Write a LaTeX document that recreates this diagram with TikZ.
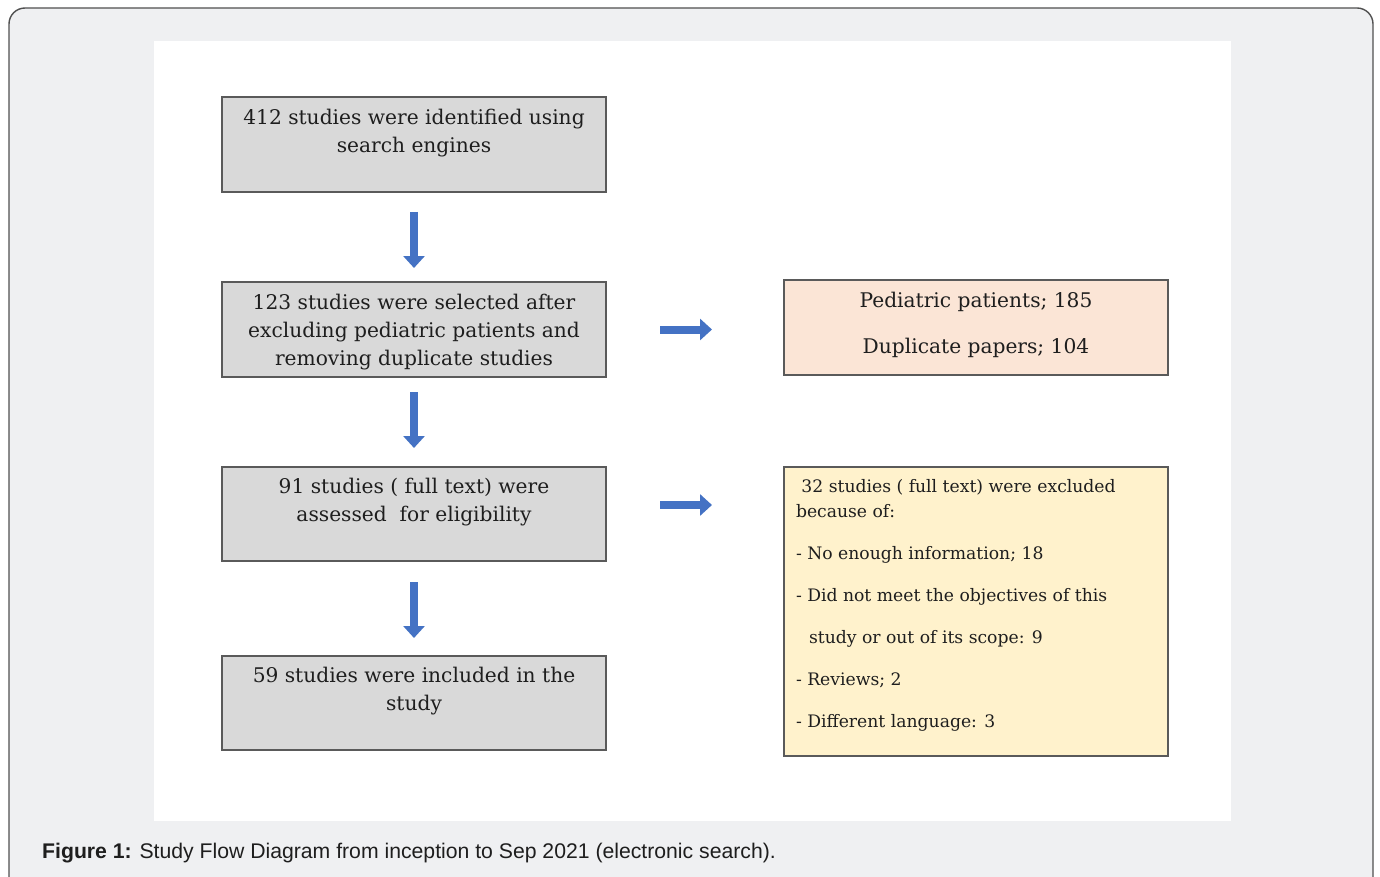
\documentclass[tikz,border=0pt]{standalone}
\usepackage{fontspec}
\setmainfont{DejaVu Serif}
\newfontfamily\capfont{Liberation Sans}
\usetikzlibrary{arrows.meta,calc}
\definecolor{frameBg}{HTML}{EFF0F2}
\definecolor{frameLine}{HTML}{505050}
\definecolor{boxFill}{HTML}{D9D9D9}
\definecolor{boxLine}{HTML}{5A5A5A}
\definecolor{pinkFill}{HTML}{FBE5D6}
\definecolor{yellowFill}{HTML}{FFF2CC}
\definecolor{arrowBlue}{HTML}{4472C4}
\definecolor{txt}{HTML}{1E1E1E}
\newcommand\flowtext[1]{\begin{minipage}[c][71pt][t]{380pt}\centering\fontsize{20.2}{28}\selectfont #1\end{minipage}}
\tikzset{
  flowbox/.style={draw=boxLine, fill=boxFill, line width=2pt, inner sep=0pt, outer sep=0pt,
    minimum width=384pt, text=txt},
  sidebox/.style={draw=boxLine, line width=2pt, inner sep=0pt, outer sep=0pt,
    minimum width=384pt, text=txt},
  flowarrow/.style={draw=arrowBlue, line width=8pt, -{Triangle[width=21pt,length=12pt]}}
}
\begin{document}
\begin{tikzpicture}[x=1pt,y=-1pt]
\useasboundingbox (0,0) rectangle (1380,877);
\clip (0,0) rectangle (1380,877);
\path[fill=frameBg, draw=frameLine, line width=1.4pt, rounded corners=16pt] (9,8) rectangle (1373,905);
\fill[white] (154,41) rectangle (1231,821);

\node[flowbox, minimum height=95pt] (b1) at (414,144.5)
  {\flowtext{412 studies were identified using\\ search engines}};
\node[flowbox, minimum height=95pt] (b2) at (414,329.5)
  {\flowtext{123 studies were selected after\\ excluding pediatric patients and\\ removing duplicate studies}};
\node[flowbox, minimum height=94pt] (b3) at (414,514)
  {\flowtext{91 studies ( full text) were\\ assessed\ \ for eligibility}};
\node[flowbox, minimum height=94pt] (b4) at (414,703)
  {\flowtext{59 studies were included in the\\ study}};

\node[sidebox, fill=pinkFill, minimum height=95pt] (ex1) at (976,327.5)
  {\begin{minipage}[c][71pt][t]{360pt}\centering\fontsize{20.2}{46}\selectfont
   Pediatric patients; 185\\ Duplicate papers; 104\end{minipage}};
\node[sidebox, fill=yellowFill, minimum height=289pt] (ex2) at (976,611.5)
  {\begin{minipage}[c][265pt][t]{360pt}\raggedright\fontsize{17.2}{25}\selectfont
   \ 32 studies ( full text) were excluded\\
   because of:\\[17pt]
   - No enough information; 18\\[17pt]
   - Did not meet the objectives of this\\[17pt]
   \hspace*{13pt}study or out of its scope: 9\\[17pt]
   - Reviews; 2\\[17pt]
   - Different language: 3\end{minipage}};

\draw[flowarrow] ([yshift=-20pt]b1.south) -- ([yshift=14pt]b2.north);
\draw[flowarrow] ([yshift=-15pt]b2.south) -- ([yshift=19pt]b3.north);
\draw[flowarrow] ([yshift=-21pt]b3.south) -- ([yshift=18pt]b4.north);
\draw[flowarrow] ($(b2.east)+(54,0)$) -- ($(b2.east -| ex1.west)+(-72,0)$);
\draw[flowarrow] ($(b3.east)+(54,-9)$) -- ($(b3.east -| ex2.west)+(-72,-9)$);

\node[anchor=base west, inner sep=0pt, text=txt, font=\capfont\fontsize{21.2}{24}\selectfont] (cap) at (42,858)
  {\textbf{Figure 1:} Study Flow Diagram from inception to Sep 2021 (electronic search).};
\end{tikzpicture}
\end{document}
